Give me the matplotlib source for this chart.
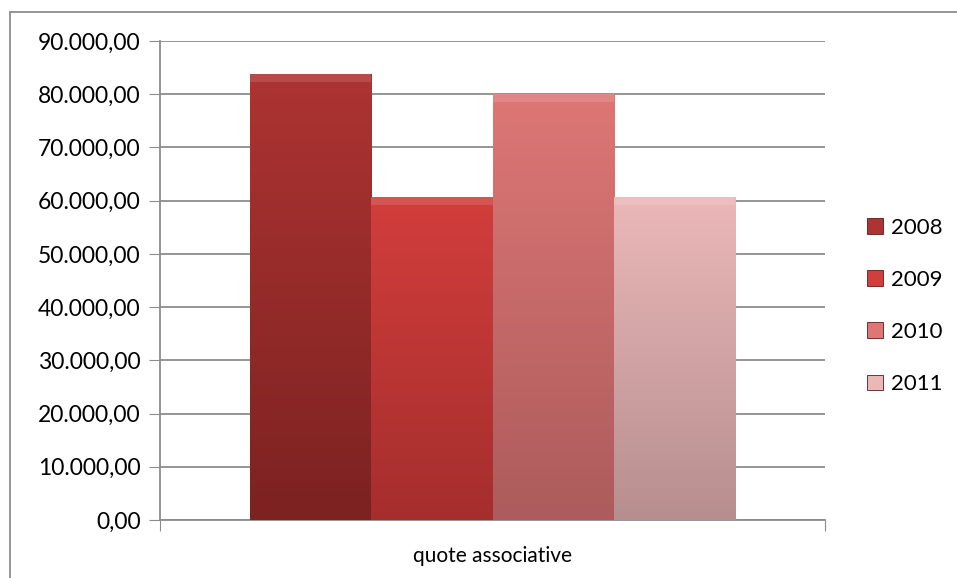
import matplotlib.pyplot as plt
import numpy as np
from matplotlib.patches import Rectangle
from matplotlib.colors import LinearSegmentedColormap

plt.rcParams['font.family'] = ['Lato', 'DejaVu Sans']

# dati
categoria = 'quote associative'
anni = ['2008', '2009', '2010', '2011']
valori = [83800, 60700, 80100, 60700]
colori_alto = ['#ad3432', '#d23e3c', '#dd7775', '#ebb8b8']
colori_basso = ['#7c2221', '#a52e2d', '#ad5b5c', '#b78e8f']

fig = plt.figure(figsize=(9.57, 5.78), dpi=100)
ax = fig.add_axes([160 / 957, 1 - 520 / 578, 665 / 957, 479 / 578])

# bordo del grafico (solo sinistra e alto visibili)
fig.patches.append(Rectangle((10 / 957, -0.1), 1.2, 1 - 12 / 578 + 0.1,
                             transform=fig.transFigure, fill=False,
                             edgecolor='#8c8c8c', linewidth=1.3))

n = len(anni)
larghezza = 0.73 / n
x0 = -0.73 / 2
for i, (anno, v) in enumerate(zip(anni, valori)):
    xi = x0 + larghezza * (i + 0.5)
    barre = ax.bar(xi, v, width=larghezza, color=colori_basso[i],
                   edgecolor='#5a1a1a', linewidth=0.6, label=anno, zorder=3)
    b = barre[0]
    cmap = LinearSegmentedColormap.from_list('g', [colori_basso[i], colori_alto[i]])
    grad = np.linspace(0, 1, 256).reshape(-1, 1)
    img = ax.imshow(grad, cmap=cmap, aspect='auto', origin='lower',
                    extent=[b.get_x(), b.get_x() + b.get_width(), 0, v], zorder=3)
    img.set_clip_path(b)
    # smusso superiore chiaro
    ax.fill_between([b.get_x(), b.get_x() + b.get_width()], v - 1500, v,
                    color='white', alpha=0.12, zorder=4, linewidth=0)

ax.set_xlim(-0.5, 0.5)
ax.set_ylim(0, 90000)
ax.set_yticks(np.arange(0, 90001, 10000))
ax.set_yticklabels([f'{int(t):,}'.replace(',', '.') + ',00' for t in np.arange(0, 90001, 10000)],
                   fontsize=16.5)
ax.set_xticks([-0.5, 0.5])
ax.set_xticklabels(['', ''])
ax.text(0.5, -0.055, categoria, transform=ax.transAxes, ha='center', va='top', fontsize=15)
ax.tick_params(axis='y', direction='out', length=8, color='#8c8c8c', pad=6)
ax.tick_params(axis='x', direction='out', length=8, color='#8c8c8c')
ax.grid(axis='y', color='#8c8c8c', linewidth=1.3, zorder=0)
ax.set_axisbelow(True)
for s in ['top', 'right']:
    ax.spines[s].set_visible(False)
for s in ['left', 'bottom']:
    ax.spines[s].set_color('#8c8c8c')
    ax.spines[s].set_linewidth(1.3)

leg = ax.legend(loc='center left', bbox_to_anchor=(1.047, 0.447), frameon=False,
                fontsize=16, handlelength=0.7, handleheight=0.7, borderpad=0,
                labelspacing=1.45, handletextpad=0.35)
for h, c in zip(leg.legend_handles, colori_alto):
    h.set_facecolor(c)

plt.savefig('out.png', dpi=100)
